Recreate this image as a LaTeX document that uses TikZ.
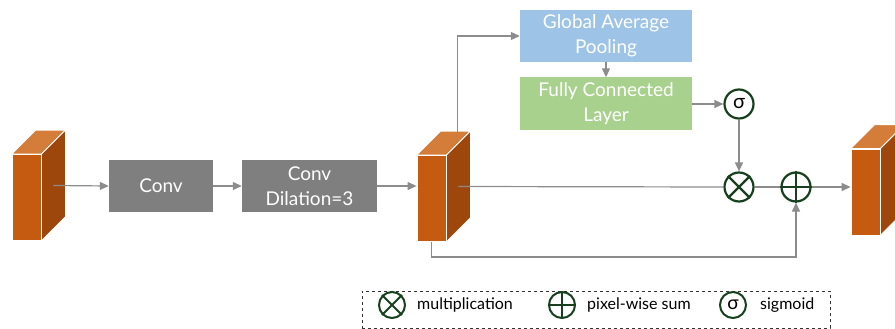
\documentclass[tikz,border=0pt]{standalone}
\usepackage{fontspec}
\setmainfont{Lato}
\usetikzlibrary{arrows.meta,calc}

\definecolor{cubefront}{HTML}{C55A11}
\definecolor{cubetop}{HTML}{D47C3A}
\definecolor{cubeside}{HTML}{9E470C}
\definecolor{convgray}{HTML}{7F7F7F}
\definecolor{gapblue}{HTML}{9DC3E6}
\definecolor{fcgreen}{HTML}{A9D18E}
\definecolor{opgreen}{HTML}{17401F}
\definecolor{linegray}{HTML}{8C8C8C}

\tikzset{
  front/.style={draw=white, line width=0.8pt, fill=cubefront, minimum width=29pt, minimum height=86pt, inner sep=0pt},
  opbox/.style={fill=convgray, text=white, minimum width=104pt, minimum height=52pt, align=center,
                font=\fontsize{19}{25}\selectfont, inner sep=0pt},
  headbox/.style={minimum width=172pt, minimum height=52pt, align=center, text=white,
                  font=\fontsize{19}{25}\selectfont, inner sep=0pt},
  opcirc/.style={circle, draw=opgreen, line width=2.2pt, fill=white, minimum size=29pt, inner sep=0pt},
  legcirc/.style={opcirc, minimum size=26pt},
  flow/.style={draw=linegray, line width=1.2pt},
  arrow/.style={flow, -{Triangle[length=9pt, width=8pt]}},
  legtext/.style={anchor=west, font=\fontsize{16}{18}\selectfont, inner sep=0pt},
}

% cube: front face is the named node, top and side faces are added behind it
\newcommand{\cubefaces}[1]{%
  \fill[cubetop, draw=white, line width=0.8pt] (#1.north west) -- ++(24,-24) -- ($(#1.north east)+(24,-24)$) -- (#1.north east) -- cycle;
  \fill[cubeside, draw=white, line width=0.8pt] (#1.north east) -- ++(24,-24) -- ($(#1.south east)+(24,-24)$) -- (#1.south east) -- cycle;
}

\begin{document}
\begin{tikzpicture}[x=1pt, y=-1pt]
  \useasboundingbox (0,0) rectangle (895,329);
  \clip (0,0) rectangle (895,329);

  % feature maps
  \node[front] (c1) at (26.5,197.5) {};
  \node[front] (c2) at (431.5,198.5) {};
  \node[front] (c3) at (865.5,192) {};
  \cubefaces{c1}
  \cubefaces{c2}
  \cubefaces{c3}
  \node[front] at (c1) {};
  \node[front] at (c2) {};
  \node[front] at (c3) {};

  % convolution blocks
  \node[opbox] (conv1) at (161,186) {Conv};
  \node[opbox, minimum width=135pt] (conv2) at (309.5,186) {Conv\\Dilation=3};

  % attention branch
  \node[headbox, fill=gapblue] (gap) at (606,36) {Global Average\\Pooling};
  \node[headbox, fill=fcgreen] (fc) at (606,103.5) {Fully Connected\\Layer};
  \node[opcirc] (sig) at (739,104) {\fontsize{20}{20}\selectfont σ};
  \node[opcirc] (mul) at (739,187) {};
  \node[opcirc] (add) at (796,187) {};
  \draw[opgreen, line width=2.2pt] (mul.north east) -- (mul.south west) (mul.north west) -- (mul.south east);
  \draw[opgreen, line width=2.2pt] (add.north) -- (add.south) (add.west) -- (add.east);

  % connectors
  \coordinate (c1out) at ($(c1.east)+(12,-12)$);
  \coordinate (c2out) at ($(c2.east)+(12,-12)$);
  \coordinate (c2top) at ($(c2.north)+(26,-12)$);
  \draw[arrow] (c1out) -- (conv1.west);
  \draw[arrow] (conv1) -- (conv2);
  \draw[arrow] (conv2.east) -- (conv2.east -| c2.west);
  \draw[arrow] (c2top) |- (gap.west);
  \draw[arrow] (gap) -- (fc);
  \draw[arrow] (fc.east |- sig) -- (sig);
  \draw[arrow] (sig) -- (mul);
  \draw[flow] (c2out) -- (mul.west);
  \draw[flow] (mul) -- (add);
  \draw[arrow] (add.east) -- (add.east -| c3.west);
  \coordinate (skip) at ($(c2.south)+(0,15)$);
  \draw[arrow] (c2.south) -- (skip) -| (add.south);

  % legend
  \node[draw=black!80, dashed, line width=0.8pt, minimum width=468pt, minimum height=37pt, inner sep=0pt] (legend) at (596,309.5) {};
  \node[legcirc, line width=2pt] (lmul) at (392,305) {};
  \draw[opgreen, line width=2pt] (lmul.north east) -- (lmul.south west) (lmul.north west) -- (lmul.south east);
  \node[legtext] (tmul) at (417,305) {multiplication};
  \node[legcirc, line width=2pt] (ladd) at (562,305) {};
  \draw[opgreen, line width=2pt] (ladd.north) -- (ladd.south) (ladd.west) -- (ladd.east);
  \node[legtext] (tadd) at (587,305) {pixel-wise sum};
  \node[legcirc, line width=2pt] (lsig) at (733,305) {\fontsize{19}{19}\selectfont σ};
  \node[legtext] (tsig) at (760,305) {sigmoid};
\end{tikzpicture}
\end{document}
